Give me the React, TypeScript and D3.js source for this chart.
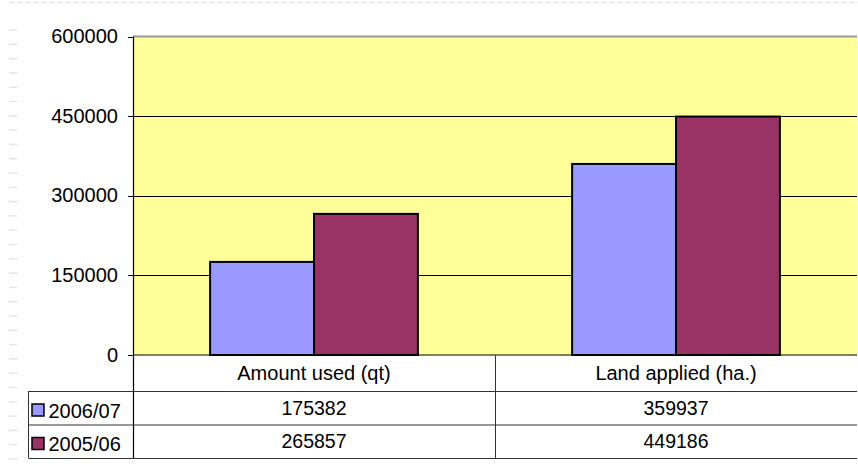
import React from "react";
import * as d3 from "d3";

const categories = ["Amount used (qt)", "Land applied (ha.)"];
const seriesNames = ["2006/07", "2005/06"];
const series2006 = [175382, 359937];
const series2005 = [265857, 449186];
const yTicks = [0, 150000, 300000, 450000, 600000];
const colors = ["#9999ff", "#993366"];

export default function App() {
  const W = 858, H = 470;
  const left = 133, right = 857, top = 36.5, bottom = 355;
  const x = d3.scaleBand().domain(categories).range([left, right]).paddingInner(0).paddingOuter(0);
  const y = d3.scaleLinear().domain([0, 600000]).range([bottom, top]);
  const seriesVals = [series2006, series2005];
  const bw = x.bandwidth();
  const barW = bw * 0.287;
  const gapL = (bw - 2 * barW) / 2;
  const rowY = [355, 391, 424.5, 458];
  const tableLeft = 28.5;
  const font = "'Liberation Sans', Arial, sans-serif";
  const dashesY = d3.range(30, 470, 14.3);

  return (
    <svg width={W} height={H} style={{ position: "absolute", left: 0, top: 0, background: "#fff" }} fontFamily={font}>
      {/* decorative frame */}
      <line x1={9} x2={858} y1={2.5} y2={2.5} stroke="#e8e8e8" strokeWidth={1.5} strokeDasharray="6 2" />
      {dashesY.map((d, i) => (
        <line key={i} x1={9} x2={17} y1={d} y2={d} stroke="#e4e4e4" strokeWidth={1.5} />
      ))}
      {/* plot area */}
      <rect x={left} y={top} width={right - left} height={bottom - top} fill="#ffff99" />
      {yTicks.slice(1, -1).map((t) => (
        <line key={t} x1={left} x2={right} y1={Math.round(y(t)) + 0.5} y2={Math.round(y(t)) + 0.5} stroke="#000" strokeWidth={1} />
      ))}
      <line x1={left} x2={right} y1={top} y2={top} stroke="#999" strokeWidth={2} />
      {/* bars */}
      {categories.map((c, ci) =>
        seriesVals.map((vals, si) => {
          const bx = (x(c) as number) + gapL + si * barW;
          return (
            <rect key={c + si} x={bx} y={y(vals[ci])} width={barW} height={bottom - y(vals[ci])}
              fill={colors[si]} stroke="#000" strokeWidth={2} />
          );
        })
      )}
      {/* y axis */}
      <line x1={left + 0.5} x2={left + 0.5} y1={top} y2={rowY[3]} stroke="#000" strokeWidth={1.2} />
      {yTicks.map((t) => (
        <g key={t}>
          <line x1={left - 5} x2={left} y1={Math.round(y(t)) + 0.5} y2={Math.round(y(t)) + 0.5} stroke="#000" />
          <text x={118} y={y(t) + 6.5} textAnchor="end" fontSize={20} fill="#000">{t}</text>
        </g>
      ))}
      {/* data table */}
      <line x1={left} x2={right} y1={rowY[0]} y2={rowY[0]} stroke="#000" strokeWidth={1.2} />
      {[1, 2, 3].map((r) => (
        <line key={r} x1={tableLeft} x2={right} y1={rowY[r] + 0.5} y2={rowY[r] + 0.5} stroke="#333" strokeWidth={1} />
      ))}
      <line x1={tableLeft} x2={tableLeft} y1={rowY[1]} y2={rowY[3]} stroke="#333" />
      <line x1={(x(categories[1]) as number) + 0.5} x2={(x(categories[1]) as number) + 0.5} y1={rowY[0]} y2={rowY[3]} stroke="#333" />
      {categories.map((c) => (
        <text key={c} x={(x(c) as number) + bw / 2} y={rowY[0] + 25} textAnchor="middle" fontSize={20} fill="#000">{c}</text>
      ))}
      {seriesNames.map((s, si) => (
        <g key={s}>
          <rect x={32} y={rowY[si + 1] + 13} width={12} height={12} fill={colors[si]} stroke="#000" strokeWidth={1.5} />
          <text x={48.5} y={rowY[si + 1] + 26.5} fontSize={20} fill="#000">{s}</text>
          {categories.map((c, ci) => (
            <text key={c} x={(x(c) as number) + bw / 2} y={rowY[si + 1] + 23.5} textAnchor="middle" fontSize={19.5} fill="#000">
              {seriesVals[si][ci]}
            </text>
          ))}
        </g>
      ))}
    </svg>
  );
}
